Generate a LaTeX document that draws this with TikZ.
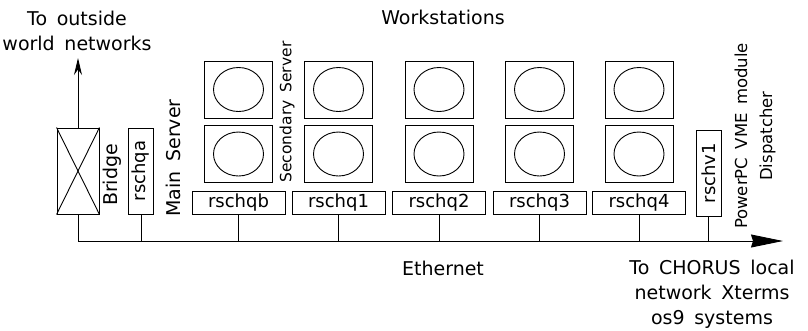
\documentclass[tikz,border=0pt]{standalone}
\usepackage{fontspec}
\setmainfont{DejaVu Sans}[WordSpace=1.6]
\usetikzlibrary{arrows.meta}
\begin{document}
\begin{tikzpicture}[x=1pt,y=-1pt,line width=0.9pt,
  every node/.style={inner sep=0pt,font=\fontsize{19}{25}\selectfont},
  lbl/.style={font=\fontsize{18}{22}\selectfont},
  hbox/.style={draw,minimum width=93pt,minimum height=23pt,lbl},
  vbox/.style={draw,minimum width=25pt,minimum height=86pt,lbl},
  screen/.style={draw,minimum width=68pt,minimum height=57pt},
  small/.style={font=\fontsize{15.5}{25}\selectfont}]
\fill[white] (0,0) rectangle (808,330);
\useasboundingbox (0,0) rectangle (808,330);

% titles
\node[align=center] (outside) at (77,31) {To outside\\world networks};
\node (ws) at (443,17) {Workstations};

% bridge
\node[draw,minimum width=42pt,minimum height=86pt] (bridge) at (78,171) {};
\draw (bridge.north west) -- (bridge.south east);
\draw (bridge.north east) -- (bridge.south west);
\coordinate (up) at (78,58);
\draw[-{Stealth[length=17pt,width=8pt]}] (bridge.north) -- (up);
\node[rotate=90] (bridgelbl) at (112,175) {Bridge};

% main server
\node[vbox] (qa) at (141,171) {\rotatebox{90}{rschqa}};
\node[rotate=90] (mainlbl) at (173,158) {Main Server};
\node[rotate=90,small] (seclbl) at (287,112) {Secondary Server};

% bus
\coordinate (busend) at (783,241);
\draw[-{Stealth[length=32pt,width=13pt,inset=2pt]}] (bridge.south) |- (busend);
\draw (qa.south) -- (qa.south |- busend);

% workstations
\foreach \n/\x in {b/238.5,1/338.5,2/439,3/539.5,4/639} {
  \node[screen] (u\n) at (\x,89.5) {};
  \node[screen] (l\n) at (\x,154) {};
  \draw (u\n.center) ellipse [x radius=25pt,y radius=22pt];
  \draw (l\n.center) ellipse [x radius=25pt,y radius=22pt];
  \node[hbox] (r\n) at (\x,202.5) {rschq\n};
  \draw (r\n.south) -- (r\n.south |- busend);
}

% dispatcher
\node[vbox] (qv) at (708.5,173) {\rotatebox{90}{rschv1}};
\draw (qv.south) -- (qv.south |- busend);
\node[rotate=90,align=center,font=\fontsize{16.5}{25}\selectfont] (pplbl) at (755,136) {PowerPC VME module\\Dispatcher};

% bottom labels
\node (eth) at (443,268) {Ethernet};
\node[align=center] (chorus) at (712,294) {To CHORUS local\\network Xterms\\os9 systems};
\end{tikzpicture}
\end{document}
